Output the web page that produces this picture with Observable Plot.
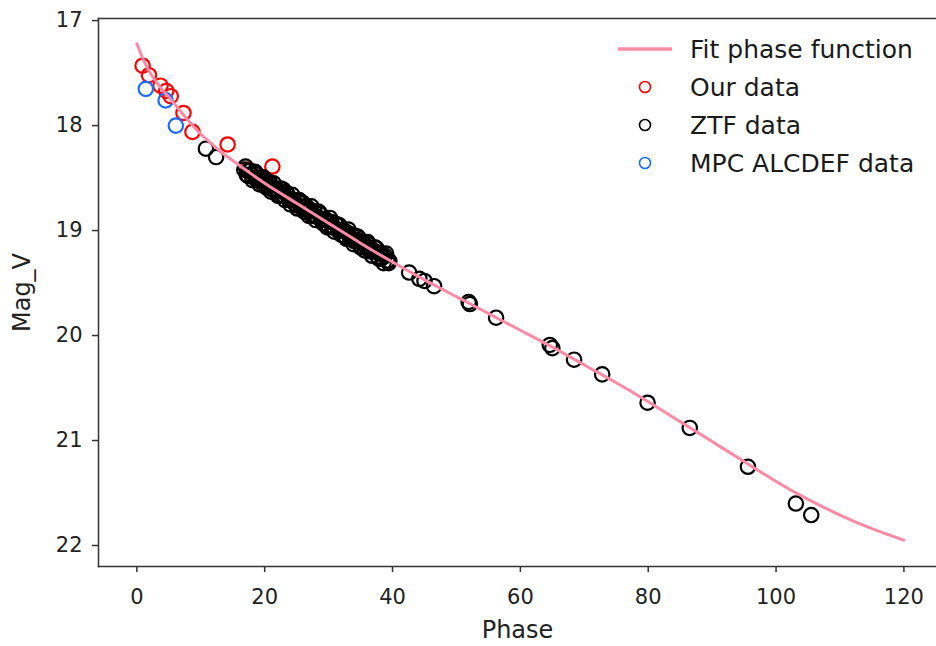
<!DOCTYPE html>
<html>
<head>
<meta charset="utf-8">
<script src="https://cdn.jsdelivr.net/npm/d3@7"></script>
<script src="https://cdn.jsdelivr.net/npm/@observablehq/plot@0.6"></script>
<style>
  html, body { margin: 0; padding: 0; background: #fff; }
  #wrap { position: relative; width: 936px; height: 646px; font-family: "DejaVu Sans", sans-serif; }
  #legend { position: absolute; left: 612px; top: 30px; font-size: 25px; color: #1a1a1a; }
  #legend .row { display: flex; align-items: center; height: 38px; }
  #legend svg { width: 66px; height: 38px; margin-right: 12px; }
</style>
</head>
<body>
<div id="wrap"></div>
<script>
// Fit phase function
const fitPhase = [0,1,2,3,4,5,6,8,10,12,14,17,20,25,30,35,40,45,50,55,60,65,70,75,80,85,90,95,100,105,110,115,120];
const fitMag   = [17.22,17.37,17.49,17.58,17.66,17.73,17.80,17.95,18.08,18.19,18.29,18.42,18.55,18.74,18.93,19.12,19.30,19.47,19.63,19.79,19.95,20.11,20.28,20.45,20.63,20.82,21.01,21.20,21.39,21.56,21.71,21.84,21.95];

// Our data (red)
const ourPhase = [0.9,1.9,3.7,4.6,5.3,7.3,8.7,14.2,17.4,21.2];
const ourMag   = [17.43,17.52,17.62,17.67,17.72,17.88,18.06,18.18,18.42,18.39];

// ZTF data (black): sparse points plus the dense run between 17 and 40 deg
const ztfPhase = [10.8,12.4,
  16.8,17.2,17.5,17.9,18.3,18.6,19.0,19.4,19.7,20.1,20.5,20.8,21.2,21.6,21.9,22.3,22.7,23.0,23.4,23.8,
  24.1,24.5,24.9,25.2,25.6,26.0,26.3,26.7,27.1,27.4,27.8,28.2,28.5,28.9,29.3,29.6,30.0,30.4,30.7,31.1,
  31.5,31.8,32.2,32.6,32.9,33.3,33.7,34.0,34.4,34.8,35.1,35.5,35.9,36.2,36.6,37.0,37.3,37.7,38.1,38.4,
  38.8,39.2,39.5,
  17.0,17.4,17.7,18.1,18.5,18.8,19.2,19.6,19.9,20.3,20.7,21.0,21.4,21.8,22.1,22.5,22.9,23.2,23.6,24.0,
  24.3,24.7,25.1,25.4,25.8,26.2,26.5,26.9,27.3,27.6,28.0,28.4,28.7,29.1,29.5,29.8,30.2,30.6,30.9,31.3,
  31.7,32.0,32.4,32.8,33.1,33.5,33.9,34.2,34.6,35.0,35.3,35.7,36.1,36.4,36.8,37.2,37.5,37.9,38.3,38.6,
  39.0,39.4,
  42.6,44.2,45.0,46.5,51.9,52.1,56.2,64.6,65.0,68.4,72.8,79.9,86.5,95.6,103.1,105.5];
const ztfMag = [18.22,18.30,
  18.42,18.47,18.43,18.47,18.45,18.51,18.50,18.51,18.56,18.53,18.57,18.54,18.61,18.60,18.61,18.66,18.63,18.67,18.64,18.71,
  18.70,18.71,18.76,18.72,18.77,18.74,18.80,18.80,18.80,18.86,18.82,18.87,18.84,18.90,18.90,18.90,18.96,18.92,18.96,18.94,
  19.00,19.00,19.00,19.06,19.02,19.06,19.04,19.10,19.09,19.10,19.15,19.12,19.16,19.13,19.20,19.19,19.20,19.25,19.22,19.26,
  19.24,19.29,19.29,
  18.39,18.48,18.43,18.52,18.44,18.52,18.56,18.49,18.50,18.59,18.55,18.63,18.55,18.63,18.67,18.60,18.61,18.71,18.66,18.75,
  18.66,18.74,18.79,18.71,18.73,18.82,18.77,18.86,18.77,18.85,18.90,18.82,18.84,18.93,18.89,18.97,18.88,18.97,19.01,18.94,
  18.95,19.04,19.00,19.08,18.99,19.08,19.13,19.05,19.06,19.16,19.11,19.19,19.11,19.19,19.24,19.16,19.17,19.27,19.22,19.31,
  19.22,19.31,
  19.40,19.46,19.48,19.53,19.68,19.70,19.83,20.09,20.12,20.23,20.37,20.64,20.88,21.25,21.60,21.71];

// MPC ALCDEF data (blue)
const mpcPhase = [1.4,4.5,6.1];
const mpcMag   = [17.65,17.76,18.00];

const xTicks = [0,20,40,60,80,100,120];
const yTicks = [17,18,19,20,21,22];

const seriesNames = ["Fit phase function","Our data","ZTF data","MPC ALCDEF data"];
const colors = {fit: "#ff8aa6", our: "#ff0000", ztf: "#000000", mpc: "#1a6dff"};

const fit = fitPhase.map((p,i) => ({p, m: fitMag[i]}));
const our = ourPhase.map((p,i) => ({p, m: ourMag[i]}));
const ztf = ztfPhase.map((p,i) => ({p, m: ztfMag[i]}));
const mpc = mpcPhase.map((p,i) => ({p, m: mpcMag[i]}));

const dotOpts = {x: "p", y: "m", r: 7.2, fill: "none", strokeWidth: 2.2};

const chart = Plot.plot({
  width: 936,
  height: 646,
  marginLeft: 98,
  marginRight: 0,
  marginTop: 18,
  marginBottom: 80,
  style: {fontFamily: "DejaVu Sans, sans-serif", background: "white", color: "#222"},
  x: {domain: [-6, 125.1]},
  y: {domain: [16.98, 22.2], reverse: true},
  marks: [
    Plot.dot(our, {...dotOpts, stroke: colors.our}),
    Plot.dot(ztf, {...dotOpts, stroke: colors.ztf}),
    Plot.dot(mpc, {...dotOpts, stroke: colors.mpc}),
    Plot.line(fit, {x: "p", y: "m", stroke: colors.fit, strokeWidth: 3, curve: "natural"}),
    Plot.axisX({ticks: xTicks, tickFormat: "d", tickSize: 6, tickPadding: 17, fontSize: 21, label: null, stroke: "#333", strokeWidth: 1.5}),
    Plot.axisY({ticks: yTicks, tickFormat: "d", tickSize: 6, tickPadding: 10, fontSize: 21, label: null, stroke: "#333", strokeWidth: 1.5}),
    Plot.frame({anchor: "left", stroke: "#333", strokeWidth: 1.5}),
    Plot.frame({anchor: "top", stroke: "#333", strokeWidth: 1.5}),
    Plot.frame({anchor: "bottom", stroke: "#333", strokeWidth: 1.5}),
    Plot.text(["Phase"], {frameAnchor: "bottom", dy: 71, fontSize: 24, fill: "#222"}),
    Plot.text(["Mag_V"], {frameAnchor: "left", dx: -76, rotate: -90, textAnchor: "middle", fontSize: 24, fill: "#222"})
  ]
});
document.getElementById("wrap").appendChild(chart);

// Legend
const legend = document.createElement("div");
legend.id = "legend";
const swatches = [
  `<line x1="6" x2="60" y1="19" y2="19" stroke="${colors.fit}" stroke-width="3.5"/>`,
  `<circle cx="33" cy="19" r="5.5" fill="none" stroke="${colors.our}" stroke-width="1.6"/>`,
  `<circle cx="33" cy="19" r="5.5" fill="none" stroke="${colors.ztf}" stroke-width="1.6"/>`,
  `<circle cx="33" cy="19" r="5.5" fill="none" stroke="${colors.mpc}" stroke-width="1.6"/>`
];
legend.innerHTML = seriesNames.map((name, i) =>
  `<div class="row"><svg viewBox="0 0 66 38">${swatches[i]}</svg><span>${name}</span></div>`).join("");
document.getElementById("wrap").appendChild(legend);
</script>
</body>
</html>
